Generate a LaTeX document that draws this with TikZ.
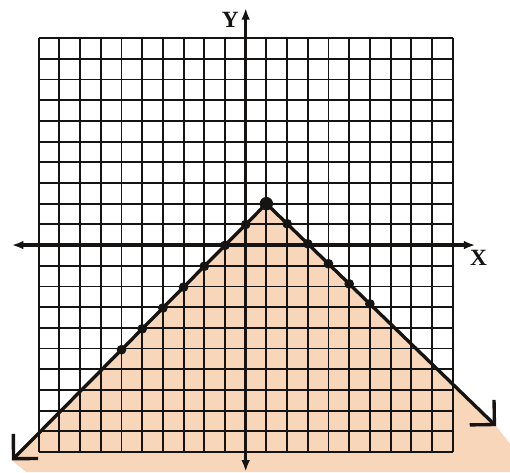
\documentclass[tikz,border=0pt]{standalone}
\usepackage{fontspec}
\setmainfont{Liberation Serif}
\usetikzlibrary{arrows.meta,calc}
\definecolor{plotPaper}{RGB}{255,255,255}
\definecolor{plotShade}{RGB}{247,214,186}
\definecolor{plotInk}{RGB}{22,20,18}

\begin{document}
\begin{tikzpicture}[x=.5cm,y=.5cm,
      gridline/.style={draw=plotInk, line width=1.3pt},
      axis/.style={draw=plotInk, line width=2.3pt,
        {Latex[length=8pt,width=6pt]}-{Latex[length=8pt,width=6pt]}},
      branch/.style={draw=plotInk, line width=2.3pt, line cap=round,
        -{Straight Barb[length=12pt,width=24pt,line width=2.3pt]}},
      axislabel/.style={font=\fontsize{16}{18}\selectfont\bfseries,
        text=plotInk, inner sep=0pt},
      plotdot/.style={fill=plotInk, draw=plotInk, line width=.6pt}]
      \useasboundingbox (-11.87,-10.97) rectangle (12.77,11.84);
      \fill[plotPaper] (-11.87,-10.97) rectangle (12.77,11.84);

      \coordinate (peak) at (1,2);
      \coordinate (leftTip) at (-11.3,-10.4);
      \coordinate (rightTip) at (12.1,-8.75);

      \fill[plotShade] (leftTip) -- (peak) -- (rightTip)
        -- (12.77,-9.6) -- (12.77,-10.97) -- (-10.6,-10.97) -- cycle;

      \draw[gridline, step={(1,1)}] (-10,-10) grid (10,10);

      \draw[axis] (-11.3,0) -- (11.1,0);
      \draw[axis] (0,-10.95) -- (0,11.45);
      \node[axislabel] (xlabel) at (11.25,-.6) {X};
      \node[axislabel] (ylabel) at (-.75,10.9) {Y};

      \draw[branch] (peak) -- (leftTip);
      \draw[branch] (peak) -- (rightTip);

      \foreach \x in {-6,...,0}{
        \path[plotdot] ($(peak)!{(1-\x)/12.3}!(leftTip)$) circle (.21);}
      \foreach \x in {2,...,6}{
        \path[plotdot] ($(peak)!{(\x-1)/11.1}!(rightTip)$) circle (.21);}
      \path[plotdot] (peak) circle (.3);
    \end{tikzpicture}
\end{document}
